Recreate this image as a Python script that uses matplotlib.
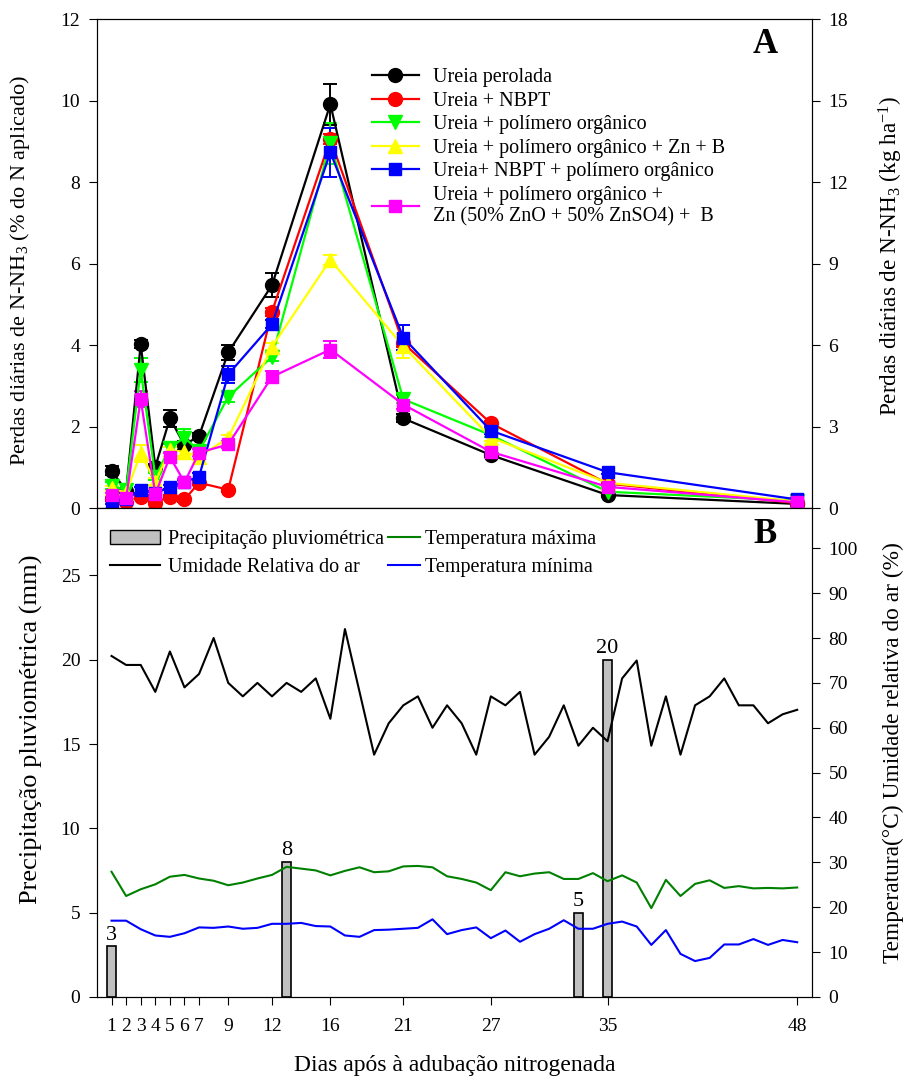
import numpy as np
import matplotlib
matplotlib.use('Agg')
import matplotlib.pyplot as plt
from matplotlib.patches import Patch
from matplotlib.lines import Line2D

plt.rcParams['font.family'] = ['Liberation Serif', 'DejaVu Serif']
plt.rcParams['mathtext.fontset'] = 'custom'
plt.rcParams['mathtext.rm'] = 'Liberation Serif'
plt.rcParams['mathtext.it'] = 'Liberation Serif:italic'

# ---- Painel A: perdas de N-NH3 ----
dias = [1, 2, 3, 4, 5, 6, 7, 9, 12, 16, 21, 27, 35, 48]
dias_ticks = ['1', '2', '3', '4', '5', '6', '7', '9', '12', '16', '21', '27', '35', '48']

perolada = [0.92, 0.42, 4.02, 1.01, 2.20, 1.55, 1.77, 3.82, 5.47, 9.91, 2.20, 1.30, 0.32, 0.10]
nbpt = [0.22, 0.14, 0.28, 0.13, 0.28, 0.21, 0.62, 0.45, 4.82, 9.05, 4.05, 2.08, 0.60, 0.12]
polimero = [0.55, 0.44, 3.39, 0.77, 1.48, 1.73, 1.40, 2.73, 3.71, 8.95, 2.67, 1.79, 0.40, 0.18]
pol_zn_b = [0.48, 0.38, 1.34, 0.65, 1.42, 1.38, 1.26, 1.72, 3.96, 6.09, 3.97, 1.73, 0.62, 0.16]
nbpt_pol = [0.15, 0.22, 0.44, 0.36, 0.52, 0.64, 0.77, 3.28, 4.51, 8.73, 4.18, 1.90, 0.88, 0.21]
pol_zn_mix = [0.32, 0.24, 2.67, 0.34, 1.26, 0.63, 1.36, 1.56, 3.22, 3.89, 2.54, 1.38, 0.52, 0.14]

err_perolada = [0.10, 0.05, 0.10, 0.08, 0.20, 0.10, 0.08, 0.18, 0.30, 0.50, 0.10, 0.05, 0.05, 0.03]
err_nbpt = [0.05, 0.03, 0.05, 0.03, 0.05, 0.05, 0.05, 0.05, 0.10, 0.12, 0.10, 0.05, 0.05, 0.03]
err_polimero = [0.08, 0.05, 0.30, 0.08, 0.10, 0.20, 0.10, 0.12, 0.10, 0.50, 0.10, 0.05, 0.05, 0.03]
err_pol_zn_b = [0.05, 0.05, 0.20, 0.08, 0.08, 0.10, 0.08, 0.08, 0.08, 0.12, 0.30, 0.08, 0.05, 0.03]
err_nbpt_pol = [0.05, 0.05, 0.08, 0.05, 0.05, 0.05, 0.08, 0.20, 0.10, 0.60, 0.30, 0.08, 0.05, 0.03]
err_pol_zn_mix = [0.05, 0.05, 0.20, 0.05, 0.08, 0.08, 0.08, 0.08, 0.15, 0.20, 0.10, 0.08, 0.05, 0.03]

# ---- Painel B: clima ----
dias_clima = list(range(1, 49))
umidade = [76, 74, 74, 68, 77, 69, 72, 80, 70, 67, 70, 67, 70, 68, 71, 62,
           82, 68, 54, 61, 65, 67, 60, 65, 61, 54, 67, 65, 68, 54, 58, 65,
           56, 60, 57, 71, 75, 56, 67, 54, 65, 67, 71, 65, 65, 61, 63, 64]
t_max = [27.9, 22.5, 24.0, 25.1, 26.8, 27.2, 26.4, 25.9, 24.9, 25.5, 26.4, 27.2,
         29.0, 28.6, 28.2, 27.1, 28.1, 28.9, 27.8, 28.0, 29.1, 29.2, 28.9, 26.9,
         26.3, 25.5, 23.8, 27.8, 26.9, 27.5, 27.8, 26.3, 26.3, 27.6, 25.8, 27.1,
         25.5, 19.8, 26.1, 22.5, 25.2, 26.0, 24.3, 24.7, 24.2, 24.3, 24.2, 24.4]
t_min = [17.0, 17.0, 15.1, 13.7, 13.4, 14.2, 15.5, 15.4, 15.7, 15.2, 15.4, 16.3,
         16.3, 16.5, 15.8, 15.7, 13.7, 13.4, 14.9, 15.0, 15.2, 15.4, 17.3, 14.0,
         14.9, 15.5, 13.1, 14.8, 12.3, 14.0, 15.2, 17.1, 15.2, 15.2, 16.3, 16.8,
         15.7, 11.6, 14.9, 9.6, 8.0, 8.7, 11.7, 11.7, 12.9, 11.6, 12.7, 12.2]
chuva_dias = [1, 13, 33, 35]
chuva = [3, 8, 5, 20]

series = [
    (perolada, err_perolada, 'black', 'o', 10, 'Ureia perolada'),
    (nbpt, err_nbpt, '#ff0000', 'o', 10, 'Ureia + NBPT'),
    (polimero, err_polimero, '#00ff00', 'v', 10, 'Ureia + polímero orgânico'),
    (pol_zn_b, err_pol_zn_b, '#ffff00', '^', 10, 'Ureia + polímero orgânico + Zn + B'),
    (nbpt_pol, err_nbpt_pol, '#0000ff', 's', 8.5, 'Ureia+ NBPT + polímero orgânico'),
    (pol_zn_mix, err_pol_zn_mix, '#ff00ff', 's', 8.5,
     'Ureia + polímero orgânico +\nZn (50% ZnO + 50% ZnSO4) +  B'),
]

fig = plt.figure(figsize=(9.06, 10.8), dpi=100)
ax1 = fig.add_axes([0.107, 0.5296, 0.789, 0.4528])
ax1r = ax1.twinx()

leg_handles = []
for vals, err, cor, mk, ms, nome in series:
    ax1.errorbar(dias, vals, yerr=err, color=cor, marker=mk, markersize=ms,
                 markeredgecolor=cor, linewidth=1.6, elinewidth=1.4,
                 capsize=5, capthick=1.4)
    leg_handles.append(Line2D([], [], color=cor, marker=mk, markersize=ms,
                              markeredgecolor=cor, linewidth=1.6, label=nome))

ax1.set_xlim(0, 49)
ax1.set_ylim(0, 12)
ax1.set_yticks(np.arange(0, 13, 2))
ax1.set_xticks(dias)
ax1.set_xticklabels([])
ax1r.set_ylim(0, 18)
ax1r.set_yticks(np.arange(0, 19, 3))
ax1.tick_params(direction='out', labelsize=14, length=6, pad=6)
ax1r.tick_params(direction='out', labelsize=14, length=6, pad=6)
ax1.set_ylabel('Perdas diárias de N-NH$_3$ (% do N aplicado)', fontsize=16)
ax1.yaxis.set_label_coords(-0.091, 0.485)
ax1r.set_ylabel('Perdas diárias de N-NH$_3$ (kg ha$^{-1}$)', fontsize=16.7)
ax1r.yaxis.set_label_coords(1.091, 0.515)
ax1.text(0.935, 0.947, 'A', transform=ax1.transAxes, fontsize=25,
         fontweight='bold', ha='center', va='center')
ax1.legend(handles=leg_handles, loc='upper left', bbox_to_anchor=(0.371, 0.92),
           frameon=False, fontsize=14.5, handlelength=2.3, handletextpad=0.7,
           labelspacing=0.22, borderpad=0)

# ---- Painel B ----
ax2 = fig.add_axes([0.107, 0.0769, 0.789, 0.4528])
ax2r = ax2.twinx()
ax2.bar(chuva_dias, chuva, width=0.6, color='#c0c0c0',
        edgecolor='black', linewidth=1.2)
for d, v in zip(chuva_dias, chuva):
    ax2.text(d, v + 0.1, str(v), ha='center', va='bottom', fontsize=16)

l_umid, = ax2r.plot(dias_clima, umidade, color='black', linewidth=1.5)
l_tmax, = ax2r.plot(dias_clima, t_max, color='#008000', linewidth=1.5)
l_tmin, = ax2r.plot(dias_clima, t_min, color='#0000ff', linewidth=1.5)

ax2.set_xlim(0, 49)
ax2.set_ylim(0, 29)
ax2.set_yticks(np.arange(0, 26, 5))
ax2.set_xticks(dias)
ax2.set_xticklabels(dias_ticks)
ax2r.set_ylim(0, 109)
ax2r.set_yticks(np.arange(0, 101, 10))
ax2.tick_params(direction='out', labelsize=14, length=6, pad=6)
ax2.tick_params(axis='x', pad=9)
ax2r.tick_params(direction='out', labelsize=14, length=6, pad=6)
ax2.set_ylabel('Precipitação pluviométrica (mm)', fontsize=19)
ax2.yaxis.set_label_coords(-0.076, 0.548)
ax2r.set_ylabel('Temperatura(°C) Umidade relativa do ar (%)', fontsize=16.8)
ax2r.yaxis.set_label_coords(1.099, 0.5)
ax2.set_xlabel('Dias após à adubação nitrogenada', fontsize=17)
ax2.xaxis.set_label_coords(0.5, -0.118)
ax2.text(0.935, 0.945, 'B', transform=ax2.transAxes, fontsize=25,
         fontweight='bold', ha='center', va='center')

# legenda em duas colunas, feitas separadas
leg_a = ax2r.legend([Patch(facecolor='#c0c0c0', edgecolor='black'), l_umid],
                    ['Precipitação pluviométrica', 'Umidade Relativa do ar'],
                    loc='upper left', bbox_to_anchor=(0.004, 0.975),
                    frameon=False, fontsize=14.5, handlelength=2.5,
                    handletextpad=0.4, labelspacing=0.42, borderpad=0)
ax2r.add_artist(leg_a)
ax2r.legend([l_tmax, l_tmin], ['Temperatura máxima', 'Temperatura mínima'],
            loc='upper left', bbox_to_anchor=(0.393, 0.975),
            frameon=False, fontsize=14.5, handlelength=1.6,
            handletextpad=0.25, labelspacing=0.42, borderpad=0)

fig.savefig('out.png', dpi=100)
